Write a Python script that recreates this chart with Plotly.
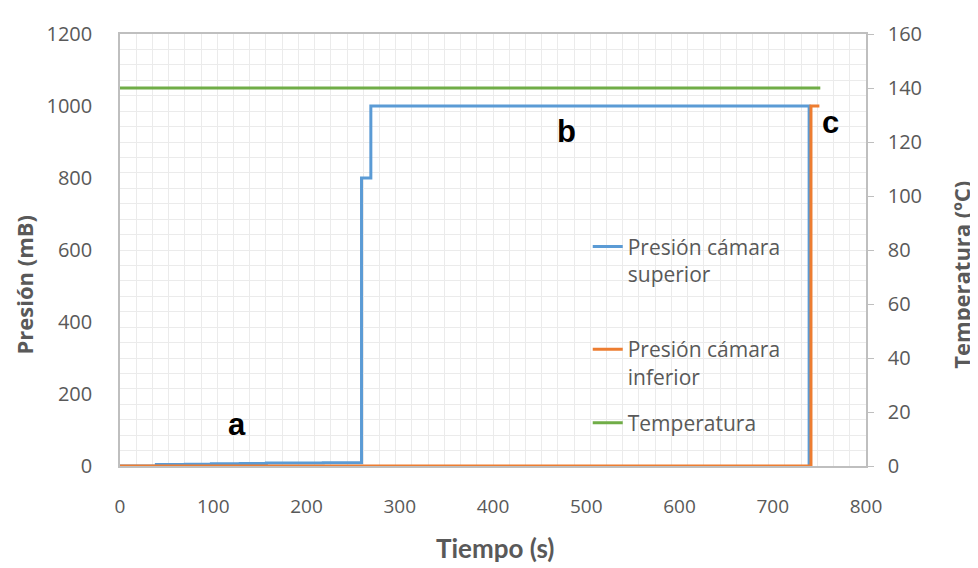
import plotly.graph_objects as go

# ---- data ----
sup_t = [0, 39, 70, 98, 129, 157, 218, 259, 269, 739]
sup_p = [0, 4, 5, 6, 7, 8, 9, 800, 1000, 0]

inf_t = [0, 741, 750]
inf_p = [0, 1000, 1000]

temp_t = [0, 751]
temp_c = [140, 140]

labels_txt = ["a", "b", "c"]
labels_t = [125, 479, 762]
labels_p = [116, 930, 955]

x_ticks = [0, 100, 200, 300, 400, 500, 600, 700, 800]
y_ticks = [0, 200, 400, 600, 800, 1000, 1200]
y2_ticks = [0, 20, 40, 60, 80, 100, 120, 140, 160]

BLUE = "#5B9BD5"
ORANGE = "#ED7D31"
GREEN = "#70AD47"
GRAY = "#595959"
GRID = "#EBEBEB"
AXIS = "#BFBFBF"
YFONT = dict(family="Open Sans", size=20, color=GRAY)
XFONT = dict(family="Open Sans", size=19, color=GRAY)

fig = go.Figure()
fig.add_trace(go.Scatter(x=sup_t, y=sup_p, mode="lines", line_shape="hv",
                         name="Presión cámara<br>superior",
                         line=dict(color=BLUE, width=3), cliponaxis=False,
                         legend="legend"))
fig.add_trace(go.Scatter(x=inf_t, y=inf_p, mode="lines", line_shape="hv",
                         name="Presión cámara<br>inferior",
                         line=dict(color=ORANGE, width=3), cliponaxis=False,
                         legend="legend2"))
fig.add_trace(go.Scatter(x=temp_t, y=temp_c, mode="lines", yaxis="y2",
                         name="Temperatura",
                         line=dict(color=GREEN, width=3), cliponaxis=False,
                         legend="legend3"))

annotations = []
for txt, t, p in zip(labels_txt, labels_t, labels_p):
    annotations.append(dict(x=t, y=p, xref="x", yref="y", text="<b>" + txt + "</b>",
                            showarrow=False,
                            font=dict(family="Arial", size=31, color="black"),
                            xanchor="center", yanchor="middle"))

annotations += [
    dict(x=-0.1287, y=0.42, xref="paper", yref="paper", text="<b>Presión (mB)</b>",
         textangle=-90, showarrow=False, xanchor="center", yanchor="middle",
         font=dict(family="Open Sans", size=22, color=GRAY)),
    dict(x=1.128, y=0.444, xref="paper", yref="paper", text="<b>Temperatura (ºC)</b>",
         textangle=-90, showarrow=False, xanchor="center", yanchor="middle",
         font=dict(family="Open Sans", size=22, color=GRAY)),
    dict(x=0.5027, y=-0.1906, xref="paper", yref="paper", text="<b>Tiempo (s)</b>",
         showarrow=False, xanchor="center", yanchor="middle",
         font=dict(family="Lato", size=26, color=GRAY)),
]

leg_common = dict(font=dict(family="Open Sans", size=21, color=GRAY),
                  bgcolor="rgba(0,0,0,0)", borderwidth=0, valign="top",
                  xanchor="left", yanchor="top")

# the page adds an 8 px body margin, so the figure is 8 px smaller
fig.update_layout(
    width=970, height=560,
    margin=dict(l=112, r=112, t=12, b=102),
    paper_bgcolor="white", plot_bgcolor="white",
    showlegend=True,
    legend=dict(x=0.627, y=0.555, **leg_common),
    legend2=dict(x=0.627, y=0.317, **leg_common),
    legend3=dict(x=0.627, y=0.147, **leg_common),
    annotations=annotations,
    xaxis=dict(range=[0, 800], tickvals=x_ticks, showgrid=False, zeroline=False,
               showline=True, linecolor=AXIS, linewidth=1.5, mirror=True,
               ticks="", tickfont=XFONT, ticklabelstandoff=22,
               minor=dict(dtick=800 / 46, tick0=0, showgrid=True,
                          gridcolor=GRID, gridwidth=1)),
    yaxis=dict(range=[0, 1200], tickvals=y_ticks, showgrid=False, zeroline=False,
               showline=True, linecolor=AXIS, linewidth=1.5, mirror=True,
               ticks="", tickfont=YFONT, ticklabelstandoff=22,
               minor=dict(dtick=1200 / 28, tick0=0, showgrid=True,
                          gridcolor=GRID, gridwidth=1)),
    yaxis2=dict(range=[0, 160], tickvals=y2_ticks, overlaying="y", side="right",
                showgrid=False, zeroline=False, showline=True, linecolor=AXIS,
                linewidth=1.5, ticks="outside", ticklen=6, tickcolor=AXIS,
                tickfont=YFONT, ticklabelstandoff=10),
)

fig.write_html("out.html")
